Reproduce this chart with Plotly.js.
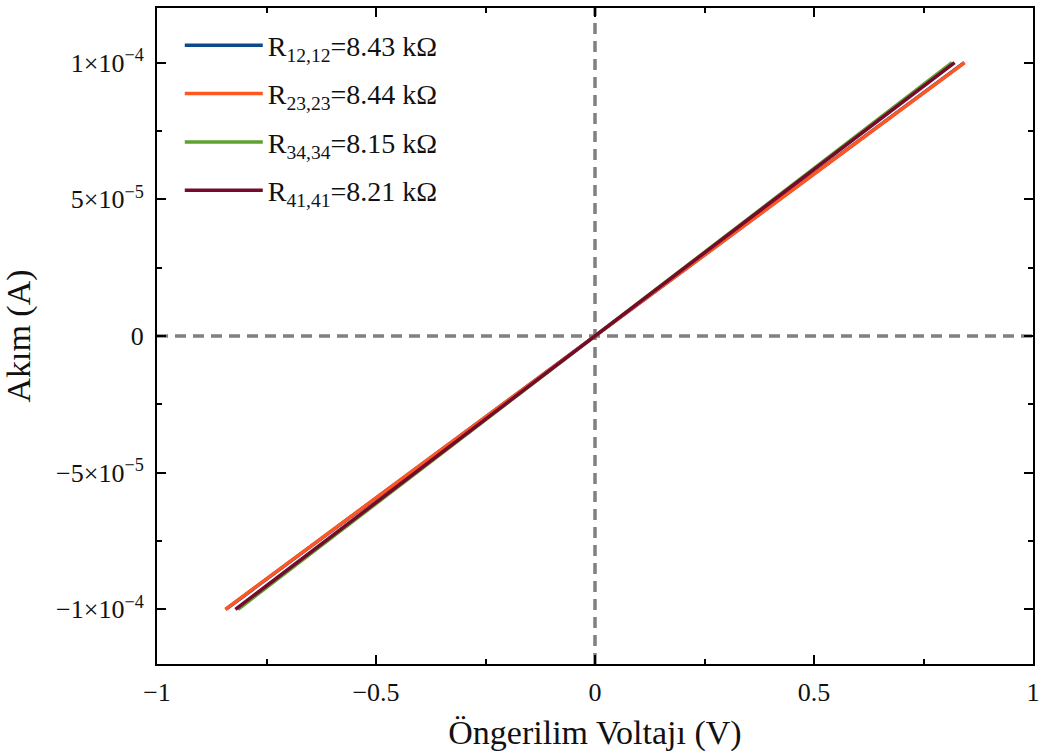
<!DOCTYPE html>
<html>
<head>
<meta charset="utf-8">
<script src="https://cdn.plot.ly/plotly-3.0.1.min.js"></script>
<style>
  html, body { margin: 0; padding: 0; background: #fff; }
  #chart { width: 1041px; height: 756px; }
</style>
</head>
<body>
<div id="chart"></div>
<script>
// Measured current (A) at each bias step
const current = [-1e-4, -5e-5, 0, 5e-5, 1e-4];

// Bias voltage (V) for each contact pair
const voltR12 = [-0.843, -0.4215, 0, 0.4215, 0.843];
const voltR23 = [-0.844, -0.422, 0, 0.422, 0.844];
const voltR34 = [-0.815, -0.4075, 0, 0.4075, 0.815];
const voltR41 = [-0.821, -0.4105, 0, 0.4105, 0.821];

const seriesNames = [
  'R<sub>12,12</sub>=8.43 kΩ',
  'R<sub>23,23</sub>=8.44 kΩ',
  'R<sub>34,34</sub>=8.15 kΩ',
  'R<sub>41,41</sub>=8.21 kΩ'
];
const seriesColors = ['#0c4a8c', '#ff5722', '#5ea22e', '#760a2c'];

const xTickVals = [-1, -0.5, 0, 0.5, 1];
const xTickText = ['−1', '−0.5', '0', '0.5', '1'];
const yTickVals = [-1e-4, -5e-5, 0, 5e-5, 1e-4];
const yTickText = ['−1×10<sup>−4</sup>', '−5×10<sup>−5</sup>', '0', '5×10<sup>−5</sup>', '1×10<sup>−4</sup>'];

const volts = [voltR12, voltR23, voltR34, voltR41];
const traces = volts.map((v, i) => ({
  x: v,
  y: current,
  type: 'scatter',
  mode: 'lines',
  name: seriesNames[i],
  legendgroup: 'g' + i,
  line: { color: seriesColors[i], width: 3.5 }
}));

const serif = 'Liberation Serif, Times New Roman, serif';

const axisBase = {
  showline: true,
  linecolor: '#000',
  linewidth: 2,
  mirror: 'ticks',
  ticks: 'inside',
  ticklen: 9,
  tickwidth: 2,
  tickcolor: '#000',
  showgrid: false,
  zeroline: false,
  tickfont: { family: serif, size: 26, color: '#111' }
};

const layout = {
  width: 1041,
  height: 756,
  margin: { l: 157, r: 8, t: 8, b: 92 },
  paper_bgcolor: '#fff',
  plot_bgcolor: '#fff',
  font: { family: serif, color: '#111' },
  xaxis: Object.assign({}, axisBase, {
    range: [-1, 1],
    tickmode: 'array',
    tickvals: xTickVals,
    ticktext: xTickText,
    ticklabelstandoff: 4,
    minor: { ticks: 'inside', ticklen: 5, tickwidth: 2, tickcolor: '#000', dtick: 0.25, showgrid: false },
    title: { text: 'Öngerilim Voltajı (V)', font: { family: serif, size: 34, color: '#111' }, standoff: 14 }
  }),
  yaxis: Object.assign({}, axisBase, {
    range: [-1.2e-4, 1.2e-4],
    tickmode: 'array',
    tickvals: yTickVals,
    ticktext: yTickText,
    ticklabelstandoff: 6,
    minor: { ticks: 'inside', ticklen: 5, tickwidth: 2, tickcolor: '#000', dtick: 2.5e-5, showgrid: false },
    title: { text: 'Akım (A)', font: { family: serif, size: 34, color: '#111' }, standoff: 16 }
  }),
  shapes: [
    { type: 'line', layer: 'below', xref: 'x', yref: 'y', x0: -1, x1: 1, y0: 0, y1: 0,
      line: { color: '#808080', width: 3.5, dash: '11px,7px' } },
    { type: 'line', layer: 'below', xref: 'x', yref: 'paper', x0: 0, x1: 0, y0: 0, y1: 1,
      line: { color: '#808080', width: 3.5, dash: '11px,7px' } }
  ],
  legend: {
    x: 0.026, y: 0.981, xanchor: 'left', yanchor: 'top',
    bgcolor: 'rgba(0,0,0,0)',
    font: { family: serif, size: 28, color: '#111' },
    itemwidth: 78,
    traceorder: 'grouped',
    tracegroupgap: 9
  },
  showlegend: true
};

Plotly.newPlot('chart', traces, layout, { displayModeBar: false, staticPlot: true });
</script>
</body>
</html>
